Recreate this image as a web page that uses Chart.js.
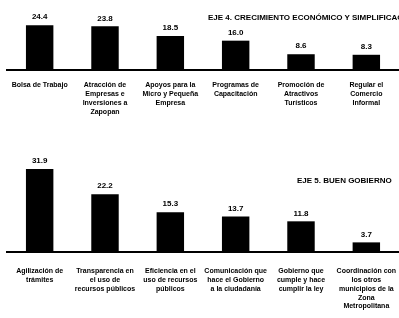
<!DOCTYPE html>
<html>
<head>
<meta charset="utf-8">
<script src="https://cdn.jsdelivr.net/npm/chart.js@4/dist/chart.umd.min.js"></script>
<style>
  body { margin: 0; background: #fff; width: 399px; height: 318px; overflow: hidden; position: relative; }
  canvas { position: absolute; left: 0; }
  .eje { position: absolute; font: bold 8px "Liberation Sans", Arial, sans-serif; color: #000; white-space: nowrap; }
</style>
</head>
<body>
<canvas id="eje4" width="399" height="140" style="top:0"></canvas>
<canvas id="eje5" width="399" height="178" style="top:140px"></canvas>
<div class="eje" style="left:208px; top:13px">EJE 4. CRECIMIENTO ECONÓMICO Y SIMPLIFICACIÓN</div>
<div class="eje" style="left:297px; top:176px">EJE 5. BUEN GOBIERNO</div>
<script>
const eje4Labels = [
    'Bolsa de Trabajo',
    ['Atracción de', 'Empresas e', 'Inversiones a', 'Zapopan'],
    ['Apoyos para la', 'Micro y Pequeña', 'Empresa'],
    ['Programas de', 'Capacitación'],
    ['Promoción de', 'Atractivos', 'Turísticos'],
    ['Regular el', 'Comercio', 'Informal']
];
const eje4Values = [24.4, 23.8, 18.5, 16.0, 8.6, 8.3];

const eje5Labels = [
    ['Agilización de', 'trámites'],
    ['Transparencia en', 'el uso de', 'recursos públicos'],
    ['Eficiencia en el', 'uso de recursos', 'públicos'],
    ['Comunicación que', 'hace el Gobierno', 'a la ciudadanía'],
    ['Gobierno que', 'cumple y hace', 'cumplir la ley'],
    ['Coordinación con', 'los otros', 'municipios de la', 'Zona', 'Metropolitana']
];
const eje5Values = [31.9, 22.2, 15.3, 13.7, 11.8, 3.7];

const fontFamily = '"Liberation Sans", Arial, sans-serif';

const valueLabels = {
    id: 'valueLabels',
    afterDatasetsDraw(chart) {
        const ctx = chart.ctx;
        ctx.save();
        ctx.font = 'bold 8px ' + fontFamily;
        ctx.fillStyle = '#000';
        ctx.textAlign = 'center';
        ctx.textBaseline = 'bottom';
        chart.getDatasetMeta(0).data.forEach((bar, i) => {
            ctx.fillText(chart.data.datasets[0].data[i].toFixed(1), bar.x, bar.y - 4);
        });
        ctx.restore();
    }
};

function makeChart(id, labels, values, yMax, padTop, axisHeight, tickPad) {
    return new Chart(document.getElementById(id).getContext('2d'), {
        type: 'bar',
        data: {
            labels: labels,
            datasets: [{
                data: values,
                backgroundColor: '#000',
                borderWidth: 0,
                barPercentage: 0.42,
                categoryPercentage: 1
            }]
        },
        options: {
            responsive: false,
            animation: false,
            devicePixelRatio: 1,
            layout: { padding: { top: padTop, left: 7, right: 0, bottom: 0 } },
            plugins: { legend: { display: false }, tooltip: { enabled: false } },
            scales: {
                x: {
                    grid: { display: false },
                    border: { display: true, color: '#000', width: 2 },
                    ticks: {
                        color: '#000',
                        font: { family: fontFamily, size: 7, weight: 'bold', lineHeight: 1.25 },
                        maxRotation: 0,
                        autoSkip: false,
                        padding: tickPad
                    },
                    afterFit: (scale) => {
                        scale.height = axisHeight;
                        scale.paddingLeft = 0;
                        scale.paddingRight = 0;
                    }
                },
                y: {
                    display: false,
                    min: 0,
                    max: yMax
                }
            }
        },
        plugins: [valueLabels]
    });
}

makeChart('eje4', eje4Labels, eje4Values, 30, 15, 70, 3);
makeChart('eje5', eje5Labels, eje5Values, 40, 8, 66, 7);
</script>
</body>
</html>
